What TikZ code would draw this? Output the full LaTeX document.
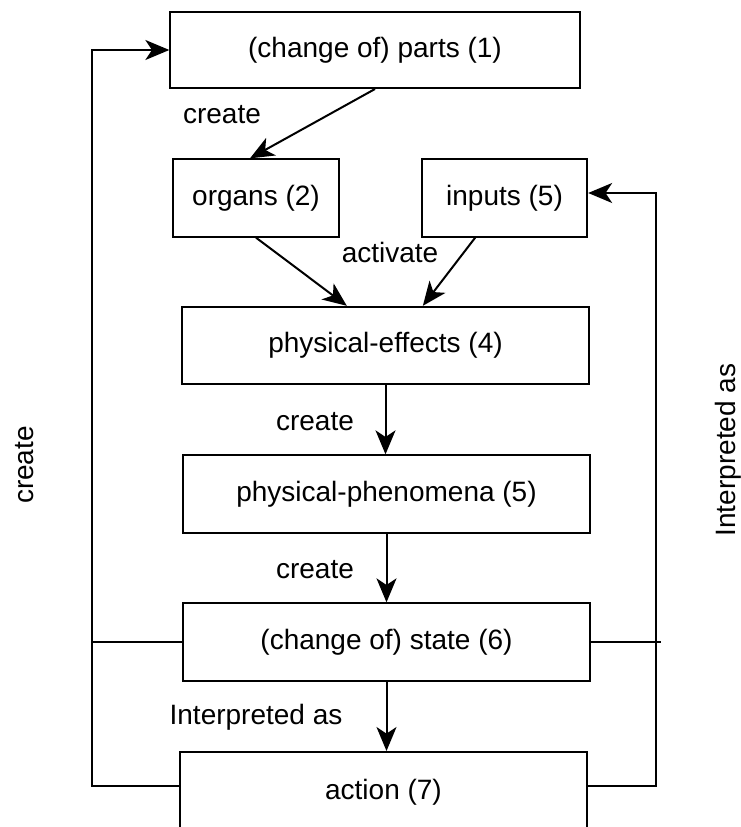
\documentclass[tikz,border=0pt]{standalone}
\usepackage{fontspec}
\setmainfont{Liberation Sans}
\usepackage{tikz}
\usetikzlibrary{arrows.meta, calc}

\begin{document}
\begin{tikzpicture}[x=0.75pt, y=-0.75pt,
    box/.style={draw, line width=1.5pt, minimum width=305pt, minimum height=58pt, font=\fontsize{21}{25}\selectfont},
    smallbox/.style={box, minimum width=124pt},
    conn/.style={-{Stealth[length=18pt, width=15pt, inset=5pt]}, line width=1.5pt},
    wire/.style={line width=1.5pt},
    lbl/.style={font=\fontsize{21}{25}\selectfont}]
\useasboundingbox (0,0) rectangle (741,827);
\clip (0,0) rectangle (741,827);

% Boxes of the chain
\node[box, minimum width=307pt, minimum height=57pt] (parts) at (375,50) {(change of) parts (1)};
\node[smallbox] (organs) at (256,198) {organs (2)};
\node[smallbox] (inputs) at (504.5,198) {inputs (5)};
\node[box] (effects) at (385.5,345.5) {physical-effects (4)};
\node[box] (phen) at (386.5,494) {physical-phenomena (5)};
\node[box] (state) at (386.5,642) {(change of) state (6)};
\node[box, minimum height=60pt] (action) at (383.5,792) {action (7)};

% Downward arrows
\draw[conn] (parts.south) -- ([xshift=-4.5pt]organs.north);
\draw[conn] (organs.south) -- ([xshift=-29pt]effects.north);
\draw[conn] ([xshift=-22pt]inputs.south) -- ([xshift=28pt]effects.north);
\draw[conn] (effects.south) -- (effects.south |- phen.north);
\draw[conn] (phen.south) -- (phen.south |- state.north);
\draw[conn] (state.south) -- (state.south |- action.north);

% Edge labels
\node[lbl] (lcreatea) at (222,115) {create};
\node[lbl] (lactivate) at (390,252) {activate};
\node[lbl] (lcreateb) at (315,422) {create};
\node[lbl] (lcreatec) at (315,570) {create};
\node[lbl] (linterp) at (256,717) {Interpreted as};

% Left feedback loop
\coordinate (lft) at (92,786);
\draw[conn] (action.west |- lft) -- (lft) |- (parts.west);
\draw[wire] (state.west) -- (state.west -| lft);
\node[lbl, rotate=90] (lcreated) at (25,465) {create};

% Right feedback loop
\coordinate (rgt) at (656,786);
\coordinate (stub) at (661,645);
\draw[conn] (action.east |- rgt) -- (rgt) |- ([yshift=3.75pt]inputs.east);
\draw[wire] (state.east) -- (state.east -| stub);
\node[lbl, rotate=90] (linterpr) at (728,450) {Interpreted as};
\end{tikzpicture}
\end{document}
